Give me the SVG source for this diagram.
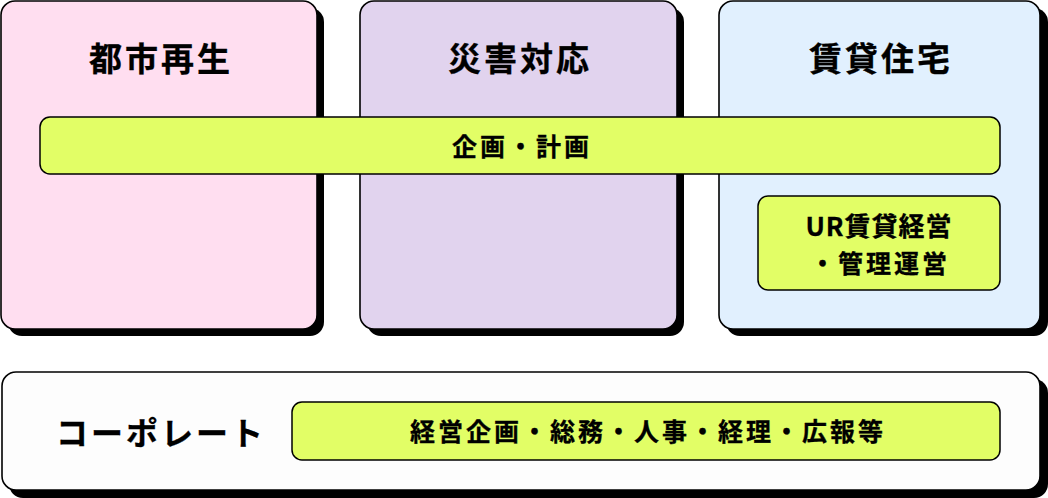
<svg xmlns="http://www.w3.org/2000/svg" width="1048" height="498" viewBox="0 0 1048 498">
<style>
.card{stroke:#000;stroke-width:1.6}
.shadow{fill:#000}
.pill{fill:#E2FE66;stroke:#000;stroke-width:1.5}
text{font-family:"Noto Sans CJK JP","Noto Sans",sans-serif;font-weight:700;fill:#000;text-anchor:middle;dominant-baseline:central;stroke:#000;stroke-width:0.3}
.h{font-size:33px;letter-spacing:3px}
.t{font-size:25px;letter-spacing:3px}
.u{font-size:26px;letter-spacing:1px}
.c{font-size:32px;letter-spacing:3px}
</style>
<rect width="1048" height="498" fill="#fff"/>
<g id="toshi-saisei">
<rect class="shadow" x="8" y="8" width="316" height="328" rx="14"/>
<rect class="card" x="1" y="1" width="316" height="328" rx="14" fill="#FFDEF0"/>
<text class="h" x="161" y="57">都市再生</text>
</g>
<g id="saigai-taio">
<rect class="shadow" x="367" y="8" width="317" height="328" rx="14"/>
<rect class="card" x="360" y="1" width="317" height="328" rx="14" fill="#E1D3EE"/>
<text class="h" x="520" y="57">災害対応</text>
</g>
<g id="chintai-jutaku">
<rect class="shadow" x="726" y="8" width="322" height="328" rx="14"/>
<rect class="card" x="719" y="1" width="321" height="328" rx="14" fill="#E1F0FE"/>
<text class="h" x="881" y="57">賃貸住宅</text>
</g>
<g id="kikaku-keikaku">
<rect class="pill" x="40" y="117" width="960" height="57" rx="10"/>
<text class="t" x="522" y="145">企画・計画</text>
</g>
<g id="ur-chintai">
<rect class="pill" x="758" y="196" width="242" height="94" rx="10"/>
<text class="u" x="879" y="224">UR賃貸経営</text>
<text class="t" x="880" y="262">・管理運営</text>
</g>
<g id="corporate">
<rect class="shadow" x="9" y="379" width="1039" height="119" rx="14"/>
<rect class="card" x="2" y="372" width="1038" height="118" rx="14" fill="#FDFDFD"/>
<text class="c" x="161" y="431">コーポレート</text>
<rect class="pill" x="292" y="402" width="708" height="58" rx="10"/>
<text class="t" x="648" y="430">経営企画・総務・人事・経理・広報等</text>
</g>
<g id="connectors"/>
</svg>
